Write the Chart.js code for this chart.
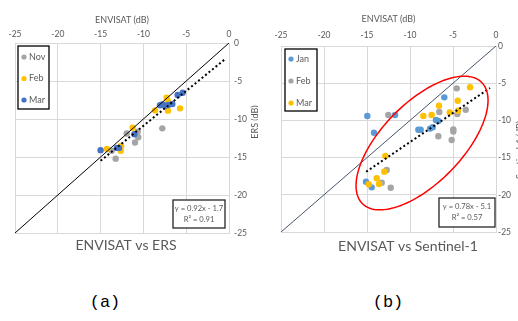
<!DOCTYPE html>
<html>
<head>
<meta charset="utf-8">
<script src="https://cdn.jsdelivr.net/npm/chart.js@4.4.0/dist/chart.umd.min.js"></script>
<style>
body { margin: 0; background: #fff; }
#wrap { position: relative; width: 518px; height: 321px; overflow: hidden; }
.box { position: absolute; top: 0; height: 260px; }
.cap { position: absolute; top: 293px; line-height: 20px; font-family: "Liberation Mono", monospace; font-size: 17px; color: #000; transform: translateX(-50%); }
</style>
</head>
<body>
<div id="wrap">
  <div class="box" style="left:0;width:258px"><canvas id="chartA"></canvas></div>
  <div class="box" style="left:258px;width:260px"><canvas id="chartB"></canvas></div>
  <div class="cap" style="left:105px">(a)</div>
  <div class="cap" style="left:388px">(b)</div>
</div>
<script>
// axis ticks (dB)
const tickVals = [-25, -20, -15, -10, -5, 0];

// (a) ENVISAT vs ERS
const novX = [-13.7, -13.24, -11.95, -10.98, -10.78, -10.67, -10.6, -7.79];
const novY = [-14.17, -15.22, -11.9, -13.1, -11.9, -11.66, -12.4, -11.23];
const febAX = [-14.25, -12.65, -12.6, -11.25, -8.64, -7.28, -7.16, -7.13, -5.72];
const febAY = [-13.95, -14.17, -13.55, -11.14, -8.86, -7.19, -7.59, -8.9, -8.6];
const marAX = [-15.0, -13.1, -12.85, -11.06, -8.06, -7.79, -7.48, -7.1, -6.62, -6.0, -5.41];
const marAY = [-14.1, -13.8, -13.8, -12.0, -8.2, -8.07, -8.25, -8.16, -8.03, -6.84, -6.54];
const trendAX = [-15, -0.5];
const trendAY = [-15.5, -2.16];

// (b) ENVISAT vs Sentinel-1
const janX = [-14.96, -14.19, -11.74, -6.01, -9.03, -8.76, -7.67, -7.36, -6.98, -6.71, -15.12, -14.46];
const janY = [-9.41, -11.65, -9.27, -6.9, -11.25, -11.25, -11.1, -10.93, -9.95, -10.08, -18.24, -19.0];
const febBX = [-12.52, -4.57, -6.59, -4.5, -3.52, -4.96, -4.96, -5.15, -6.71, -12.71, -13.29, -12.24];
const febBY = [-9.27, -5.69, -8.87, -9.14, -8.56, -11.2, -11.5, -12.63, -12.14, -16.67, -18.37, -19.05];
const marBX = [-3.02, -4.45, -6.63, -8.45, -7.48, -5.38, -4.42, -12.87, -12.99, -13.87, -14.8, -13.6];
const marBY = [-5.55, -7.35, -8.02, -9.41, -9.27, -8.92, -8.7, -14.78, -16.89, -17.78, -18.59, -18.55];
const trendBX = [-15.1, -0.7];
const trendBY = [-16.9, -5.65];

// 1:1 line
const diagX = [-25, 0];
const diagY = [-25, 0];

const FONT = 'Lato, sans-serif';
const GREY = '#595959';
Chart.defaults.font.family = FONT;
Chart.defaults.color = GREY;

const pts = (xs, ys) => xs.map((x, i) => ({ x: x, y: ys[i] }));

function dots(label, xs, ys, color, order) {
  return { label: label, data: pts(xs, ys), backgroundColor: color, borderWidth: 0,
    pointRadius: 3.2, pointHoverRadius: 3.2, order: order };
}
function line(xs, ys, color, width, dash, order) {
  return { label: '', data: pts(xs, ys), showLine: true, borderColor: color, borderWidth: width,
    borderDash: dash, pointRadius: 0, order: order };
}

function axes(topH, rightW, padX, padY, titleTop) {
  return {
    x: { type: 'linear', position: 'top', min: tickVals[0], max: tickVals[tickVals.length - 1],
      ticks: { stepSize: 5, padding: padX, font: { size: 8.5 }, maxRotation: 0 },
      grid: { color: '#D9D9D9', drawTicks: false }, border: { color: '#D9D9D9' },
      title: { display: true, text: 'ENVISAT (dB)', font: { size: 9 }, padding: { top: titleTop, bottom: 0 } },
      afterFit(s) { s.height = topH; } },
    y: { type: 'linear', position: 'right', min: tickVals[0], max: tickVals[tickVals.length - 1],
      ticks: { stepSize: 5, padding: padY, font: { size: 8.5 } },
      grid: { color: '#D9D9D9', drawTicks: false }, border: { color: '#D9D9D9' },
      afterFit(s) { s.width = rightW; } }
  };
}

// legend box, equation box, ellipse, rotated y title and caption
const decor = {
  id: 'decor',
  afterDatasetsDraw(chart, args, o) {
    if (!o.ellipse) return;
    const e = o.ellipse, xs = chart.scales.x, ys = chart.scales.y, ctx = chart.ctx;
    ctx.save();
    ctx.beginPath();
    for (let i = 0; i <= 120; i++) {
      const t = i / 120 * Math.PI * 2;
      const px = xs.getPixelForValue(e.cx + e.ax * Math.cos(t) + e.bx * Math.sin(t));
      const py = ys.getPixelForValue(e.cy + e.ay * Math.cos(t) + e.by * Math.sin(t));
      if (i) ctx.lineTo(px, py); else ctx.moveTo(px, py);
    }
    ctx.closePath();
    ctx.strokeStyle = '#FF0000';
    ctx.lineWidth = 1.5;
    ctx.stroke();
    ctx.restore();
  },
  afterDraw(chart, args, o) {
    const ctx = chart.ctx;
    ctx.save();
    // legend
    const L = o.legend;
    ctx.fillStyle = '#fff';
    ctx.fillRect(L.x, L.y, L.w, L.h);
    ctx.strokeStyle = '#000';
    ctx.lineWidth = 1.3;
    ctx.strokeRect(L.x, L.y, L.w, L.h);
    ctx.font = '9px ' + FONT;
    ctx.textBaseline = 'middle';
    ctx.textAlign = 'left';
    chart.data.datasets.filter(d => !d.showLine).forEach((d, i) => {
      const y = L.y + L.first + i * L.step;
      ctx.fillStyle = d.backgroundColor;
      ctx.beginPath();
      ctx.arc(L.x + 6, y, 2.6, 0, Math.PI * 2);
      ctx.fill();
      ctx.fillStyle = GREY;
      ctx.fillText(d.label, L.x + 11, y);
    });
    // equation
    const E = o.eq;
    ctx.fillStyle = '#fff';
    ctx.fillRect(E.x, E.y, E.w, E.h);
    ctx.strokeStyle = '#262626';
    ctx.lineWidth = 1.3;
    ctx.strokeRect(E.x, E.y, E.w, E.h);
    ctx.fillStyle = GREY;
    ctx.textAlign = 'center';
    ctx.font = '7.6px ' + FONT;
    E.lines.forEach((t, i) => ctx.fillText(t, E.x + E.w / 2, E.y + 9 + i * 11));
    // caption
    ctx.font = '14px ' + FONT;
    ctx.fillText(o.caption.text, o.caption.x, o.caption.y);
    // y title
    ctx.font = '9px ' + FONT;
    ctx.translate(o.yTitle.x, o.yTitle.y);
    ctx.rotate(-Math.PI / 2);
    ctx.fillText(o.yTitle.text, 0, 0);
    ctx.restore();
  }
};

new Chart(document.getElementById('chartA'), {
  type: 'scatter',
  data: { datasets: [
    dots('Nov', novX, novY, '#A5A5A5', 4),
    dots('Feb', febAX, febAY, '#FFC000', 3),
    dots('Mar', marAX, marAY, '#4472C4', 2),
    line(diagX, diagY, '#000000', 1, [], 1),
    line(trendAX, trendAY, '#000000', 2, [2, 2.5], 0)
  ] },
  options: {
    responsive: true, maintainAspectRatio: false, animation: false,
    layout: { padding: { left: 15, bottom: 27 } },
    scales: axes(43, 29, 4, 5, 14.5),
    plugins: {
      legend: { display: false }, tooltip: { enabled: false },
      decor: {
        legend: { x: 18, y: 46, w: 31, h: 63, first: 11, step: 21.5 },
        eq: { x: 173, y: 200, w: 52, h: 28, lines: ['y = 0.92x - 1.7', 'R² = 0.91'] },
        caption: { text: 'ENVISAT vs ERS', x: 126, y: 245 },
        yTitle: { text: 'ERS (dB)', x: 255, y: 122 }
      }
    }
  },
  plugins: [decor]
});

new Chart(document.getElementById('chartB'), {
  type: 'scatter',
  data: { datasets: [
    dots('Jan', janX, janY, '#5B9BD5', 4),
    dots('Feb', febBX, febBY, '#A5A5A5', 3),
    dots('Mar', marBX, marBY, '#FFC000', 2),
    line(diagX, diagY, '#44546A', 1, [], 1),
    line(trendBX, trendBY, '#000000', 2, [2, 2.5], 0)
  ] },
  options: {
    responsive: true, maintainAspectRatio: false, animation: false,
    layout: { padding: { left: 23, bottom: 28 } },
    scales: axes(46, 22, 6, 2, 13.5),
    plugins: {
      legend: { display: false }, tooltip: { enabled: false },
      decor: {
        ellipse: { cx: -8.6, cy: -13.04, ax: 6.92, ay: 8.16, bx: 3.32, by: -3.76 },
        legend: { x: 27, y: 49, w: 32, h: 62, first: 10, step: 22 },
        eq: { x: 181, y: 198, w: 56, h: 29, lines: ['y = 0.78x - 5.1', 'R² = 0.57'] },
        caption: { text: 'ENVISAT vs Sentinel-1', x: 150, y: 246 },
        yTitle: { text: 'Sentinel-1 (dB)', x: 262, y: 150 }
      }
    }
  },
  plugins: [decor]
});
</script>
</body>
</html>
